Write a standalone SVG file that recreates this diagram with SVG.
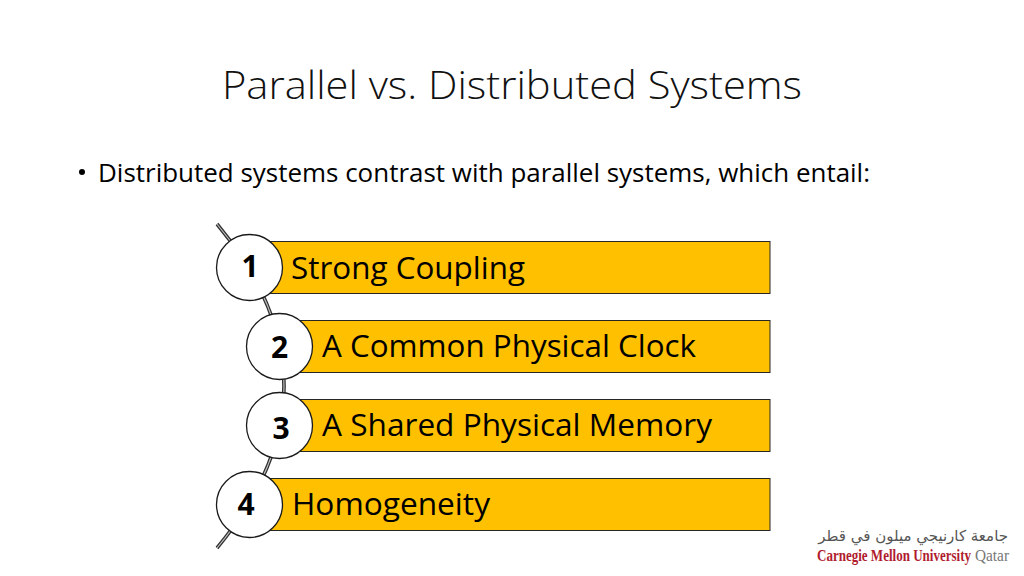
<svg xmlns="http://www.w3.org/2000/svg" width="1024" height="576" viewBox="0 0 1024 576">
<style>
.t{font-family:"Open Sans","Noto Sans",sans-serif;fill:#000}
.bar{fill:#ffc000;stroke:#262626;stroke-width:1}
.c{fill:#fff;stroke:#1a1a1a;stroke-width:1.3}
.n{font-family:"Open Sans","Noto Sans",sans-serif;font-weight:700;font-size:30px;text-anchor:middle;fill:#000}
.l{font-size:31px}
</style>
<rect width="1024" height="576" fill="#fff"/>
<text id="title" class="t" x="222" y="99" font-size="39" font-weight="300" textLength="580" lengthAdjust="spacingAndGlyphs" style="fill:#111">Parallel vs. Distributed Systems</text>
<g id="bullet"><circle cx="82" cy="172" r="3" fill="#000"/>
<text class="t" x="98" y="182" font-size="25" textLength="772" lengthAdjust="spacingAndGlyphs">Distributed systems contrast with parallel systems, which entail:</text></g>
<g id="connectors" fill="none">
<path d="M217 224 Q351 386 217 548" stroke="#333" stroke-width="3.6"/>
<path d="M217 224 Q351 386 217 548" stroke="#c4c4c4" stroke-width="1.1"/>
</g>
<g id="node1"><rect class="bar" x="249" y="241.500" width="521" height="52"/><circle class="c" cx="249.500" cy="267.500" r="33"/><text class="n" x="250" y="277">1</text><text class="t l" x="291" y="279" textLength="234" lengthAdjust="spacingAndGlyphs">Strong Coupling</text></g>
<g id="node2"><rect class="bar" x="279" y="320.500" width="491" height="52"/><circle class="c" cx="279.500" cy="346.500" r="33"/><text class="n" x="279.500" y="358">2</text><text class="t l" x="322" y="357" textLength="374" lengthAdjust="spacingAndGlyphs">A Common Physical Clock</text></g>
<g id="node3"><rect class="bar" x="279" y="399.500" width="491" height="52"/><circle class="c" cx="279.500" cy="425.500" r="33"/><text class="n" x="281" y="439">3</text><text class="t l" x="322" y="436" textLength="390" lengthAdjust="spacingAndGlyphs">A Shared Physical Memory</text></g>
<g id="node4"><rect class="bar" x="249" y="478.500" width="521" height="52"/><circle class="c" cx="249.500" cy="504.500" r="33"/><text class="n" x="246" y="515">4</text><text class="t l" x="292" y="515" textLength="198" lengthAdjust="spacingAndGlyphs">Homogeneity</text></g>
<g id="logo">
<text x="1008" y="541" font-family="'DejaVu Sans',sans-serif" font-size="15" fill="#555" text-anchor="start" direction="rtl">جامعة كارنيجي ميلون في قطر</text>
<text x="817" y="561" font-family="'Liberation Serif',serif" font-size="16" font-weight="700" fill="#b01c2e" textLength="154" lengthAdjust="spacingAndGlyphs">Carnegie Mellon University</text>
<text x="975" y="561" font-family="'Liberation Serif',serif" font-size="16" fill="#777" textLength="34" lengthAdjust="spacingAndGlyphs">Qatar</text>
</g>
</svg>
